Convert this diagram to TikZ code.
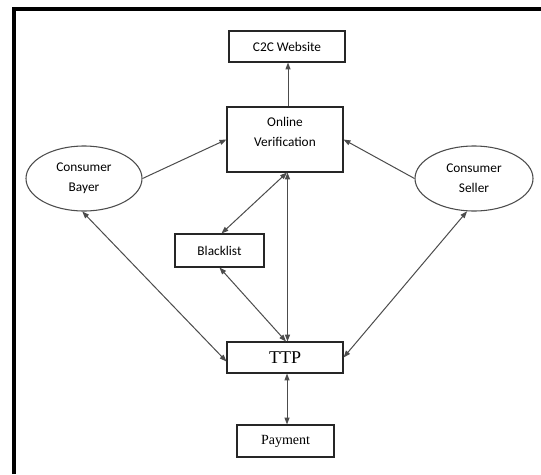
\documentclass[tikz,border=0pt]{standalone}
\usepackage{fontspec}
\setmainfont{Liberation Serif}
\newfontfamily\calibri{Carlito}
\usetikzlibrary{arrows.meta,shapes.geometric,calc}

\tikzset{
  box/.style={draw=black!85, line width=0.8pt, fill=white, inner sep=0pt},
  sansbox/.style={box, font=\calibri\fontsize{10}{12.5}\selectfont},
  oval/.style={ellipse, draw=black!70, line width=0.8pt, fill=white, inner sep=0pt,
    align=center, font=\calibri\fontsize{10}{15}\selectfont},
  link/.style={draw=black!70, line width=0.75pt},
  tip/.tip={Triangle[length=5.2pt,width=3.8pt]},
  one/.style={link, -tip},
  both/.style={link, tip-tip},
}

\begin{document}
\begin{tikzpicture}[x=0.75pt, y=-0.75pt]
  % page and frame
  \useasboundingbox (0,0) rectangle (541,474);
  \fill[white] (0,0) rectangle (541,474);
  \draw[black, line width=2.6pt] (14,474) -- (14,8.8) -- (541,8.8);

  % boxes
  \node[sansbox, minimum width=116*0.75pt, minimum height=31*0.75pt] (c2c) at (287,46.5) {C2C Website};
  \node[box, minimum width=116*0.75pt, minimum height=65*0.75pt] (ov) at (285,139.5) {};
  \node[align=center, font=\calibri\fontsize{10}{15}\selectfont] (ovtext) at (285,132) {Online\\Verification};
  \node[sansbox, minimum width=89*0.75pt, minimum height=33*0.75pt] (bl) at (219.5,250.5) {Blacklist};
  \node[box, font=\fontsize{13.5}{15}\selectfont, minimum width=116*0.75pt, minimum height=31*0.75pt] (ttp) at (285,357.5) {TTP};
  \node[box, font=\fontsize{10.5}{12}\selectfont, minimum width=97*0.75pt, minimum height=32*0.75pt] (pay) at (285.5,441) {Payment};

  % consumers
  \node[oval, minimum width=116*0.75pt, minimum height=65*0.75pt] (bayer) at (84,178.5) {Consumer\\Bayer};
  \node[oval, minimum width=118*0.75pt, minimum height=65*0.75pt] (seller) at (474,178.5) {Consumer\\Seller};

  % connectors
  \draw[one] ($(ov.north)+(3,0)$) -- ($(c2c.south)+(1,0)$);
  \draw[one] (bayer.east) -- (ov.west);
  \draw[one] (seller.west) -- (ov.east);
  \draw[both] ($(ov.south)+(2,0)$) -- ($(bl.north)+(2,0)$);
  \draw[both] ($(ov.south)+(2.5,0)$) -- ($(ttp.north)+(2.5,0)$);
  \draw[both] (bl.south) -- ($(ttp.north)+(1,0)$);
  \draw[both] (bayer.267) -- ($(ttp.west)+(0,4)$);
  \draw[both] (seller.258) -- (ttp.east);
  \draw[both] ($(ttp.south)+(2,0)$) -- ($(pay.north)+(1.5,0)$);
\end{tikzpicture}
\end{document}
